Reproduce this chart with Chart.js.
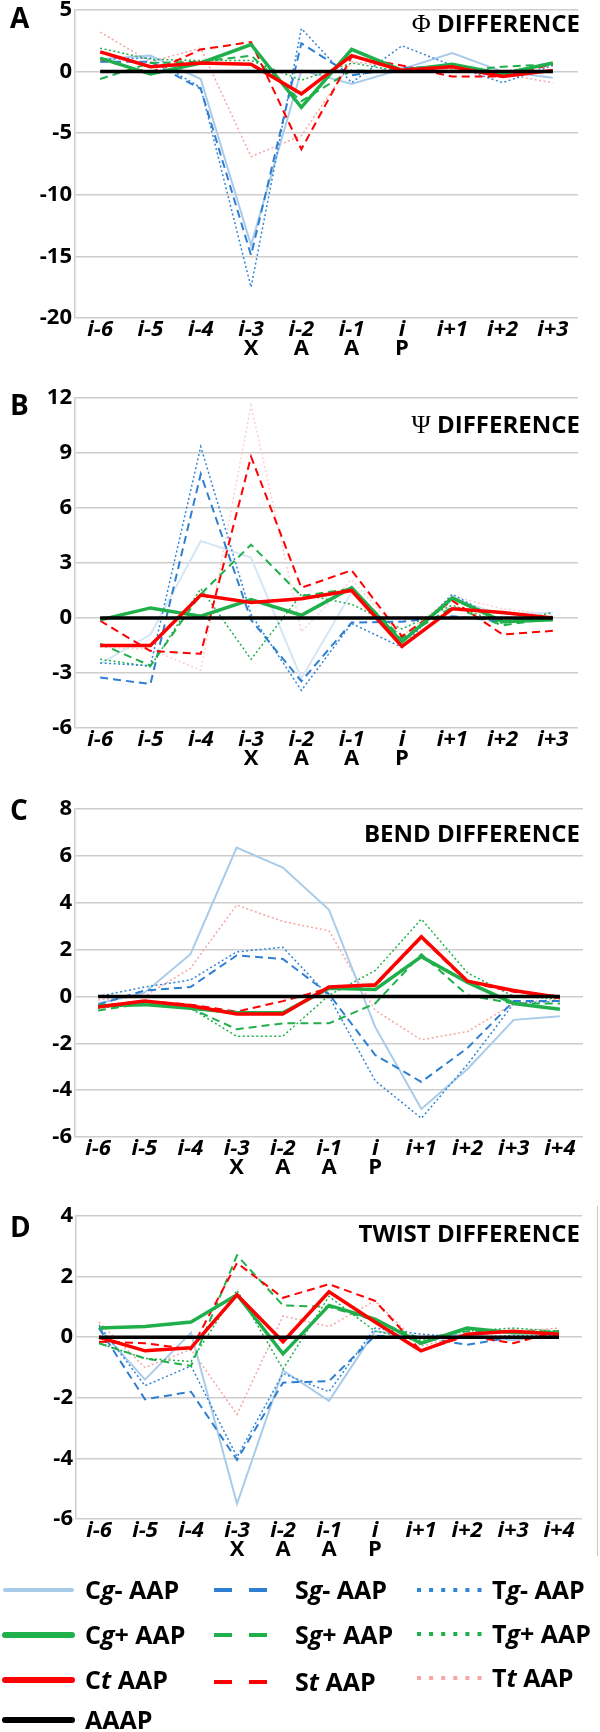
<!DOCTYPE html>
<html>
<head>
<meta charset="utf-8">
<script src="https://cdn.jsdelivr.net/npm/chart.js@4.4.0/dist/chart.umd.min.js"></script>
<style>
  body { margin: 0; width: 600px; height: 1732px; background: #fff; position: relative; overflow: hidden; font-family: 'Open Sans', sans-serif; color: #000; }
  canvas { position: absolute; left: 0; }
  .letter { position: absolute; left: 10px; font-weight: bold; font-size: 28px; line-height: 28px; }
  .title { position: absolute; right: 20px; font-weight: bold; font-size: 24px; line-height: 24px; white-space: nowrap; }
  .title .sym { font-family: 'Liberation Serif', serif; font-weight: normal; font-size: 26px; }
  .leg { position: absolute; font-weight: bold; font-size: 25px; line-height: 25px; white-space: nowrap; }
  #legendLines { position: absolute; left: 0; top: 1560px; }
  #frameD { position: absolute; left: 597px; top: 1206px; width: 1px; height: 350px; background: #c8c8c8; }
</style>
</head>
<body>
<canvas id="chartA"></canvas>
<canvas id="chartB"></canvas>
<canvas id="chartC"></canvas>
<canvas id="chartD"></canvas>
<div id="frameD"></div>

<div class="letter" style="top:3px">A</div>
<div class="letter" style="top:390px">B</div>
<div class="letter" style="top:795px">C</div>
<div class="letter" style="top:1212px">D</div>

<div class="title" style="top:11px"><span class="sym">Φ</span> DIFFERENCE</div>
<div class="title" style="top:412px"><span class="sym">Ψ</span> DIFFERENCE</div>
<div class="title" style="top:821px">BEND DIFFERENCE</div>
<div class="title" style="top:1221px">TWIST DIFFERENCE</div>

<svg id="legendLines" width="600" height="172">
  <line x1="5" y1="30" x2="72" y2="30" stroke="#a9cbea" stroke-width="4" stroke-linecap="round"/>
  <line x1="5" y1="75" x2="72" y2="75" stroke="#1fb04c" stroke-width="6" stroke-linecap="round"/>
  <line x1="5" y1="120" x2="72" y2="120" stroke="#ff0000" stroke-width="6" stroke-linecap="round"/>
  <line x1="5" y1="160" x2="72" y2="160" stroke="#000000" stroke-width="6" stroke-linecap="round"/>
  <line x1="214" y1="30" x2="268" y2="30" stroke="#2e7fd1" stroke-width="4" stroke-dasharray="18 17"/>
  <line x1="214" y1="75" x2="268" y2="75" stroke="#1fb04c" stroke-width="4" stroke-dasharray="18 17"/>
  <line x1="214" y1="122" x2="268" y2="122" stroke="#ff0000" stroke-width="4" stroke-dasharray="18 17"/>
  <line x1="417" y1="30" x2="482" y2="30" stroke="#2e86d9" stroke-width="4" stroke-dasharray="4 8.1"/>
  <line x1="417" y1="74" x2="482" y2="74" stroke="#1fb04c" stroke-width="4" stroke-dasharray="4 8.1"/>
  <line x1="417" y1="118" x2="482" y2="118" stroke="#f7a5a5" stroke-width="4" stroke-dasharray="4 8.1"/>
</svg>
<div class="leg" style="left:85px;top:1577px">C<i>g</i>- AAP</div>
<div class="leg" style="left:85px;top:1622px">C<i>g</i>+ AAP</div>
<div class="leg" style="left:85px;top:1667px">C<i>t</i> AAP</div>
<div class="leg" style="left:85px;top:1707px">AAAP</div>
<div class="leg" style="left:295px;top:1577px">S<i>g</i>- AAP</div>
<div class="leg" style="left:295px;top:1622px">S<i>g</i>+ AAP</div>
<div class="leg" style="left:295px;top:1669px">S<i>t</i> AAP</div>
<div class="leg" style="left:492px;top:1577px">T<i>g</i>- AAP</div>
<div class="leg" style="left:492px;top:1621px">T<i>g</i>+ AAP</div>
<div class="leg" style="left:492px;top:1665px">T<i>t</i> AAP</div>

<script>
// residue positions, motif letters under them
const catAB = ['i-6', 'i-5', 'i-4', 'i-3', 'i-2', 'i-1', 'i', 'i+1', 'i+2', 'i+3'];
const catCD = ['i-6', 'i-5', 'i-4', 'i-3', 'i-2', 'i-1', 'i', 'i+1', 'i+2', 'i+3', 'i+4'];
const motifAB = ['', '', '', 'X', 'A', 'A', 'P', '', '', ''];
const motifCD = ['', '', '', 'X', 'A', 'A', 'P', '', '', '', ''];

// A: phi difference
const phiCgMinus = [1.0, 1.3, -0.6, -14.1, 0.1, -1.0, 0.2, 1.5, 0.0, -0.5];
const phiCgPlus  = [1.1, -0.2, 0.7, 2.2, -2.9, 1.8, 0.1, 0.6, -0.2, 0.7];
const phiCt      = [1.6, 0.4, 0.7, 0.6, -1.8, 1.3, 0.1, 0.4, -0.4, 0.1];
const phiAAAP    = [0, 0, 0, 0, 0, 0, 0, 0, 0, 0];
const phiSgMinus = [0.8, 0.8, -1.4, -14.9, 2.3, -0.3, 0.3, 0.4, -0.2, 0.0];
const phiSgPlus  = [-0.6, 0.7, 0.8, 1.3, -2.4, 0.1, 0.0, 0.0, 0.4, 0.6];
const phiSt      = [1.0, -0.1, 1.8, 2.4, -6.3, 1.2, 0.5, -0.4, -0.4, 0.6];
const phiTgMinus = [1.0, 1.1, -1.3, -17.5, 3.5, -0.9, 2.1, 0.5, -0.9, 0.5];
const phiTgPlus  = [1.9, 1.0, 0.9, 0.9, -0.7, 0.7, 0.0, 0.1, 0.0, 0.6];
const phiTt      = [3.2, 0.8, 1.9, -6.9, -5.2, 0.8, 0.3, 0.2, -0.2, -0.9];

// B: psi difference
const psiCgMinus = [-2.5, -0.9, 4.2, 3.3, -3.3, 1.4, -1.3, 1.0, 0.2, 0.3];
const psiCgPlus  = [-0.1, 0.55, 0.1, 1.0, 0.15, 1.65, -1.3, 1.1, -0.2, -0.1];
const psiCt      = [-1.5, -1.5, 1.25, 0.85, 1.05, 1.5, -1.55, 0.5, 0.3, 0.0];
const psiAAAP    = [0, 0, 0, 0, 0, 0, 0, 0, 0, 0];
const psiSgMinus = [-3.25, -3.6, 7.85, -0.1, -3.45, -0.25, -0.2, 0.1, -0.2, 0.0];
const psiSgPlus  = [-1.4, -2.6, 1.3, 4.0, 1.2, 1.6, -1.1, 0.6, -0.4, 0.0];
const psiSt      = [-0.15, -1.8, -1.95, 8.8, 1.65, 2.6, -1.0, 0.95, -0.9, -0.7];
const psiTgMinus = [-2.45, -2.6, 9.35, 0.2, -3.95, -0.3, -1.6, 1.3, -0.2, 0.1];
const psiTgPlus  = [-2.25, -2.65, 1.6, -2.25, 1.3, 0.75, -0.6, 0.7, -0.3, 0.3];
const psiTt      = [-1.6, -1.7, -2.85, 11.6, -0.75, 2.1, -1.0, 1.2, 0.5, 0.2];

// C: bend difference
const bendCgMinus = [-0.3, 0.15, 1.8, 6.35, 5.5, 3.7, -1.3, -4.8, -3.1, -1.0, -0.85];
const bendCgPlus  = [-0.4, -0.35, -0.5, -0.7, -0.7, 0.35, 0.3, 1.7, 0.6, -0.3, -0.55];
const bendCt      = [-0.45, -0.2, -0.4, -0.75, -0.75, 0.4, 0.5, 2.55, 0.65, 0.25, -0.05];
const bendAAAP    = [0, 0, 0, 0, 0, 0, 0, 0, 0, 0, 0];
const bendSgMinus = [-0.35, 0.25, 0.4, 1.75, 1.6, 0.1, -2.5, -3.65, -2.2, -0.2, -0.2];
const bendSgPlus  = [-0.6, -0.3, -0.5, -1.4, -1.15, -1.15, -0.3, 1.8, 0.05, -0.3, -0.3];
const bendSt      = [-0.4, -0.2, -0.35, -0.65, -0.2, 0.35, 0.45, 2.5, 0.6, 0.2, 0.0];
const bendTgMinus = [0.0, 0.4, 0.7, 1.9, 2.1, 0.0, -3.6, -5.2, -2.9, -0.3, -0.2];
const bendTgPlus  = [-0.5, -0.3, -0.5, -1.7, -1.7, 0.05, 1.1, 3.3, 1.0, 0.0, -0.1];
const bendTt      = [-0.15, 0.0, 1.2, 3.9, 3.2, 2.8, -0.6, -1.85, -1.5, -0.3, -0.1];

// D: twist difference
const twistCgMinus = [0.3, -1.4, 0.15, -5.5, -1.1, -2.1, 0.2, 0.0, 0.1, -0.1, 0.1];
const twistCgPlus  = [0.3, 0.35, 0.5, 1.4, -0.55, 1.05, 0.6, -0.2, 0.3, 0.15, 0.15];
const twistCt      = [0.0, -0.45, -0.35, 1.4, -0.15, 1.5, 0.5, -0.45, 0.1, 0.2, 0.1];
const twistAAAP    = [0, 0, 0, 0, 0, 0, 0, 0, 0, 0, 0];
const twistSgMinus = [0.3, -2.05, -1.8, -4.05, -1.5, -1.45, 0.05, 0.0, -0.25, 0.0, 0.0];
const twistSgPlus  = [-0.2, -0.7, -0.95, 2.7, 1.05, 1.0, 0.55, -0.05, 0.2, 0.2, 0.2];
const twistSt      = [-0.15, -0.2, -0.4, 2.45, 1.3, 1.75, 1.2, -0.45, 0.05, -0.2, 0.2];
const twistTgMinus = [0.4, -1.6, -0.95, -3.95, -1.2, -1.8, 0.3, 0.1, 0.0, 0.05, 0.05];
const twistTgPlus  = [-0.2, -0.7, -0.8, 1.55, -1.05, 1.35, 0.2, -0.1, 0.2, 0.3, 0.2];
const twistTt      = [0.5, -1.0, -0.4, -2.55, 0.7, 0.35, 1.2, -0.3, 0.1, 0.2, 0.3];

// line look for each series (same order as the data lists above)
const seriesStyle = [
  { label: 'Cg- AAP', color: '#a9cbea', width: 2,   dash: [],       order: 8 },
  { label: 'Cg+ AAP', color: '#1fb04c', width: 3.5, dash: [],       order: 2 },
  { label: 'Ct AAP',  color: '#ff0000', width: 3.5, dash: [],       order: 1 },
  { label: 'AAAP',    color: '#000000', width: 3.5, dash: [],       order: 0 },
  { label: 'Sg- AAP', color: '#2e7fd1', width: 2,   dash: [8, 5],   order: 5 },
  { label: 'Sg+ AAP', color: '#1fb04c', width: 2,   dash: [8, 5],   order: 4 },
  { label: 'St AAP',  color: '#ff0000', width: 2,   dash: [8, 5],   order: 3 },
  { label: 'Tg- AAP', color: '#2e86d9', width: 1.5, dash: [2, 2.5], order: 6 },
  { label: 'Tg+ AAP', color: '#1fb04c', width: 1.5, dash: [2, 2.5], order: 7 },
  { label: 'Tt AAP',  color: '#f7a5a5', width: 1.5, dash: [2, 2.5], order: 9 }
];

const FONT = "'Open Sans', sans-serif";

function drawPanel(id, plot, cats, motif, yMin, yMax, yStep, series, paler) {
  const padTop = 12;
  const cv = document.getElementById(id);
  cv.width = 600;
  cv.height = plot.bottom - plot.top + padTop + 48;
  cv.style.top = (plot.top - padTop) + 'px';
  const tickFont = { family: FONT, size: 22, weight: 'bold', lineHeight: 1 };

  new Chart(cv, {
    type: 'line',
    data: {
      labels: cats,
      datasets: series.map((vals, k) => ({
        label: seriesStyle[k].label,
        data: vals,
        borderColor: (paler && paler[k]) || seriesStyle[k].color,
        borderWidth: seriesStyle[k].width,
        borderDash: seriesStyle[k].dash,
        order: seriesStyle[k].order,
        pointRadius: 0,
        tension: 0,
        fill: false
      }))
    },
    options: {
      responsive: false,
      animation: false,
      devicePixelRatio: 1,
      layout: { padding: { top: padTop, right: 600 - plot.right, bottom: 0, left: 0 } },
      plugins: { legend: { display: false }, tooltip: { enabled: false } },
      scales: {
        // first label row: residue position (italic)
        x: {
          offset: true,
          grid: { display: false, drawTicks: false },
          border: { display: false },
          ticks: { font: { ...tickFont, style: 'italic' }, color: '#000', padding: 1, autoSkip: false, maxRotation: 0 },
          afterFit: s => { s.height = 40; }
        },
        // second label row: motif letters, mirrored so it sits inside the row above
        x2: {
          type: 'category',
          labels: motif,
          position: 'bottom',
          offset: true,
          weight: 1,
          grid: { display: false, drawTicks: false },
          border: { display: false },
          ticks: { font: tickFont, color: '#000', mirror: true, padding: -2, autoSkip: false, maxRotation: 0 },
          afterFit: s => { s.height = 8; }
        },
        y: {
          min: yMin,
          max: yMax,
          ticks: { stepSize: yStep, font: tickFont, color: '#000', padding: 3 },
          grid: { color: '#cdcdcd', lineWidth: 1.5, drawTicks: false },
          border: { display: true, color: '#cdcdcd', width: 1.5 },
          afterFit: s => { s.width = plot.left; }
        }
      }
    }
  });
}

function drawAll() {
  Chart.defaults.font.family = FONT;
  drawPanel('chartA', { top: 8, bottom: 318, left: 75, right: 578 }, catAB, motifAB, -20, 5, 5,
    [phiCgMinus, phiCgPlus, phiCt, phiAAAP, phiSgMinus, phiSgPlus, phiSt, phiTgMinus, phiTgPlus, phiTt]);
  drawPanel('chartB', { top: 396, bottom: 728, left: 75, right: 578 }, catAB, motifAB, -6, 12, 3,
    [psiCgMinus, psiCgPlus, psiCt, psiAAAP, psiSgMinus, psiSgPlus, psiSt, psiTgMinus, psiTgPlus, psiTt],
    { 0: '#d6e6f5', 9: '#fbd0d0' });
  drawPanel('chartC', { top: 807, bottom: 1137, left: 75, right: 583 }, catCD, motifCD, -6, 8, 2,
    [bendCgMinus, bendCgPlus, bendCt, bendAAAP, bendSgMinus, bendSgPlus, bendSt, bendTgMinus, bendTgPlus, bendTt]);
  drawPanel('chartD', { top: 1214, bottom: 1519, left: 76, right: 582 }, catCD, motifCD, -6, 4, 2,
    [twistCgMinus, twistCgPlus, twistCt, twistAAAP, twistSgMinus, twistSgPlus, twistSt, twistTgMinus, twistTgPlus, twistTt]);
}

Promise.all([
  document.fonts.load("bold 22px 'Open Sans'"),
  document.fonts.load("italic bold 22px 'Open Sans'")
]).then(drawAll, drawAll);
</script>
</body>
</html>
